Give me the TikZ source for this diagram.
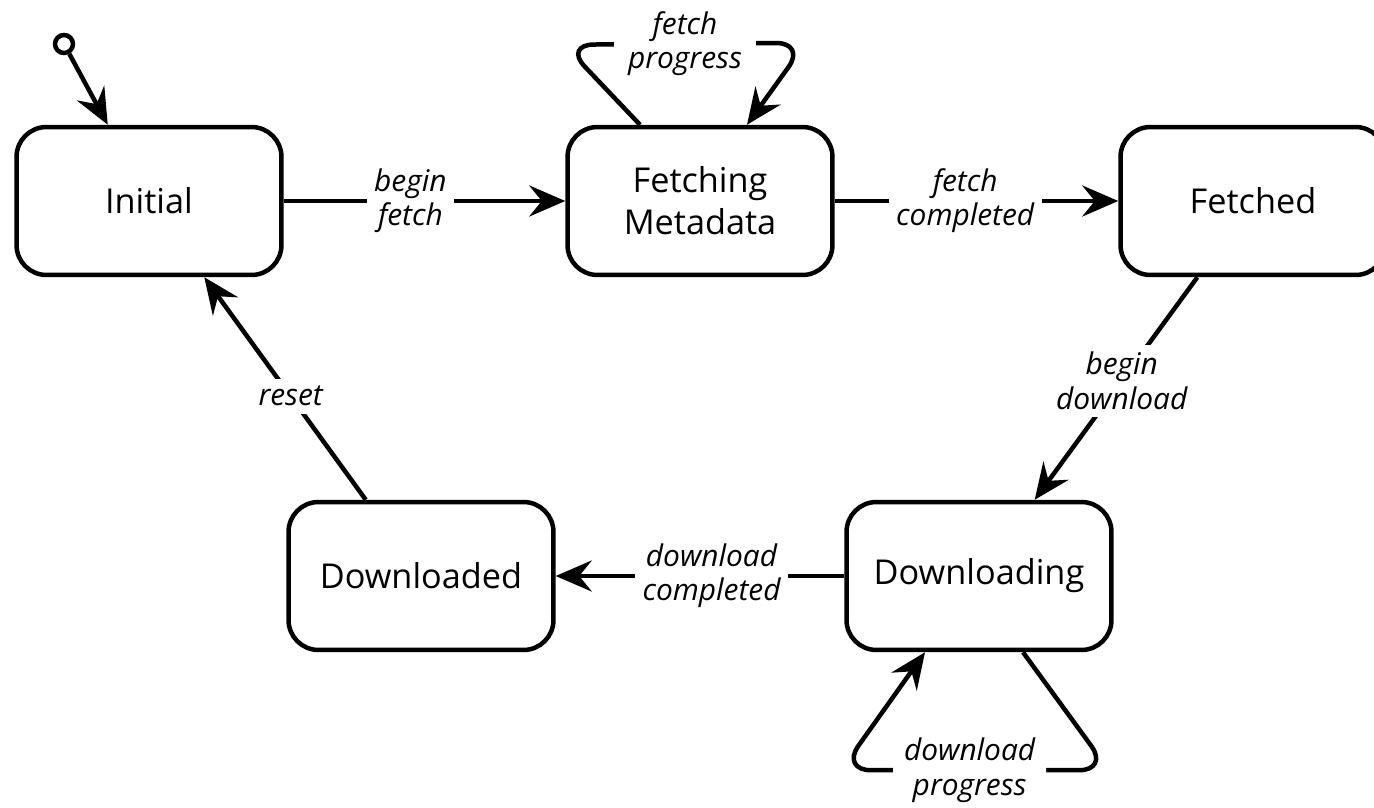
\documentclass[tikz,border=0pt]{standalone}
\usepackage{fontspec}
\setmainfont{Open Sans}
\usetikzlibrary{arrows.meta}

\begin{document}
\begin{tikzpicture}[x=0.02cm, y=-0.02cm, line width=0.09cm,
  >={Stealth[length=0.72cm, width=0.62cm, inset=0.25cm]},
  state/.style={draw, rounded corners=0.6cm, minimum width=5.3cm, minimum height=2.96cm, align=center, font=\fontsize{19.5}{24}\selectfont},
  event/.style={fill=white, align=center, inner sep=0.15cm, font=\fontsize{17}{19.5}\selectfont\itshape},
  selfloop/.style={->, rounded corners=0.6cm}]
 \useasboundingbox (0,0) rectangle (1374,808);
 \node[draw, circle, minimum size=0.36cm, inner sep=0pt] (start) at (64,44) {};
 \node[state] (initial) at (149,201) {Initial};
 \node[state] (fetching) at (700,201) {Fetching\\Metadata};
 \node[state] (fetched) at (1253,201) {Fetched};
 \node[state] (downloading) at (979,576) {Downloading};
 \node[state] (downloaded) at (421,576) {Downloaded};
 \path (start) edge [->] (initial);
 \path (initial) edge [->] node[event, pos=0.45] {begin\\fetch} (fetching);
 \draw[selfloop] ([xshift=-1.2cm]fetching.north) -- ++(-76,-80) -- node[event, inner xsep=0.28cm] {fetch\\progress} ++(242,-2) -- ([xshift=0.94cm]fetching.north);
 \path (fetching) edge [->] node[event, pos=0.46] {fetch\\completed} (fetched);
 \path (fetched) edge [->] node[event, pos=0.465] {begin\\download} (downloading);
 \draw[selfloop] ([xshift=0.88cm]downloading.south) -- ++(86,118) -- node[event, pos=0.52, inner xsep=0.22cm] {download\\progress} ++(-268,0) -- ([xshift=-1.08cm]downloading.south);
 \path (downloading) edge [->] node[event, pos=0.46] {download\\completed} (downloaded);
 \path (downloaded) edge [->] node[event, pos=0.465] {reset} (initial);
\end{tikzpicture}
\end{document}
